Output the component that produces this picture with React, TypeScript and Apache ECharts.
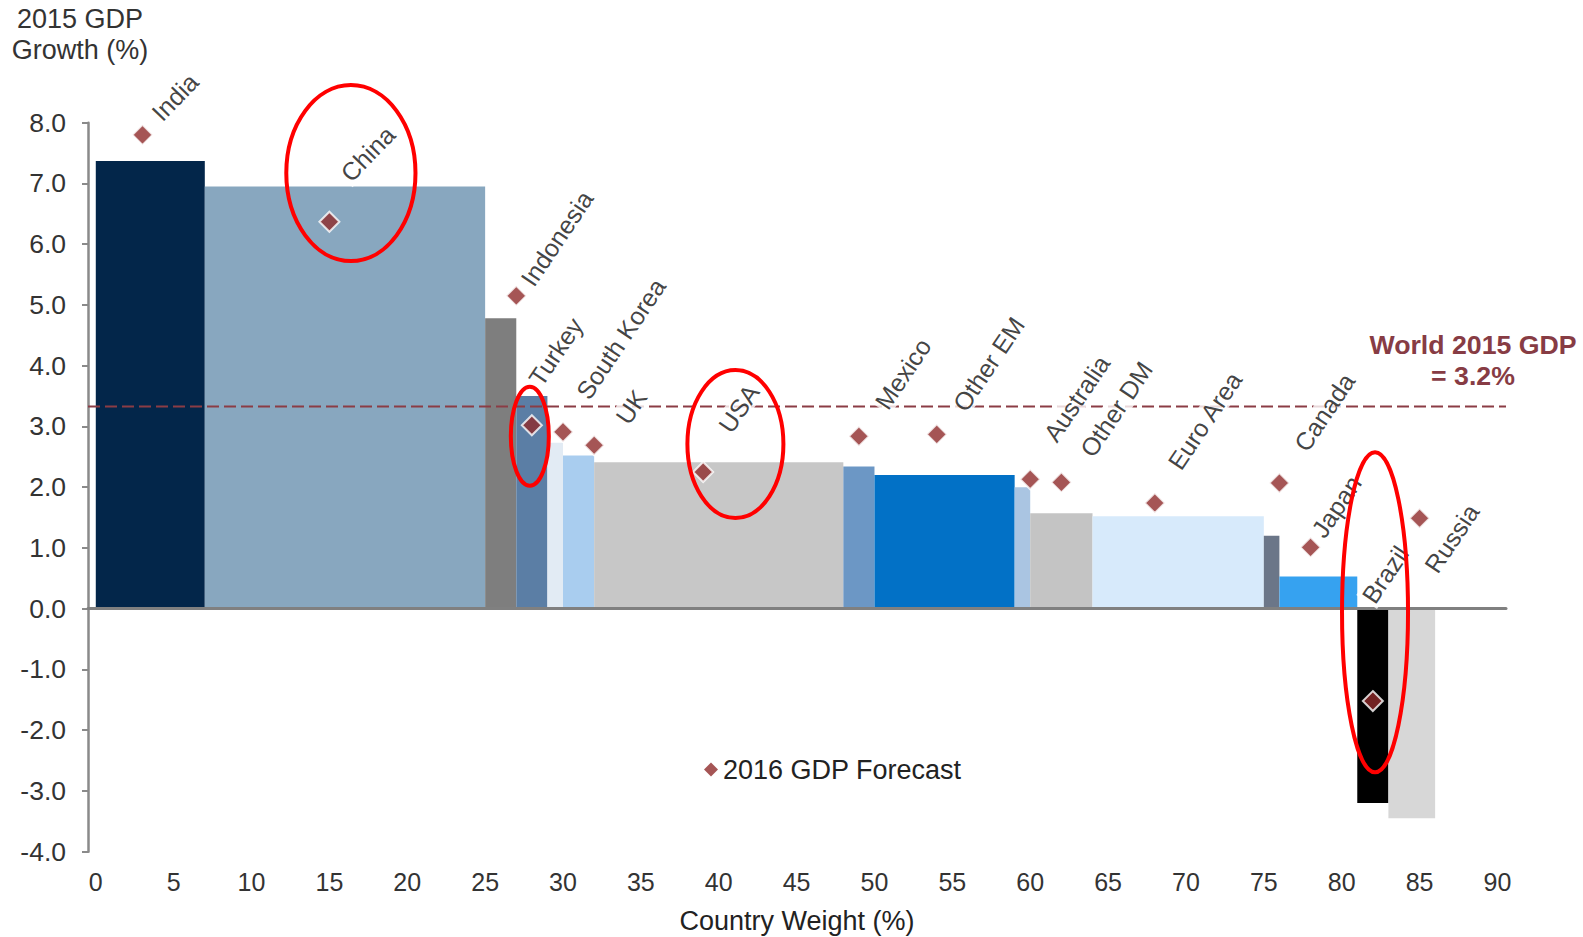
import React, { useEffect, useRef } from "react";
import * as echarts from "echarts";

// ---------------- DATA ----------------
const countries = [
  "India", "China", "Indonesia", "Turkey", "South Korea", "UK", "USA", "Mexico",
  "Other EM", "Australia", "Other DM", "Euro Area", "Canada", "Japan", "Brazil", "Russia",
];
// country weight (%), i.e. bar widths on the x axis
const weights = [7, 18, 2, 2, 1, 2, 16, 2, 9, 1, 4, 11, 1, 5, 2, 3];
// 2015 GDP growth (%), bar heights
const gdp2015 = [7.37, 6.95, 4.78, 3.5, 2.73, 2.52, 2.41, 2.34, 2.2, 2.0, 1.57, 1.52, 1.2, 0.53, -3.2, -3.45];
// 2016 GDP forecast (%), diamonds, with their x position on the weight axis
const forecastX = [3, 15, 27, 28, 30, 32, 39, 49, 54, 60, 62, 68, 76, 78, 82, 85];
const gdp2016 = [7.8, 6.37, 5.15, 3.02, 2.91, 2.69, 2.25, 2.84, 2.87, 2.13, 2.08, 1.74, 2.07, 1.01, -1.52, 1.49];
const worldGdpLine = 3.33;
const worldGdpText = "World 2015 GDP\n= 3.2%";
const xTicks = [0, 5, 10, 15, 20, 25, 30, 35, 40, 45, 50, 55, 60, 65, 70, 75, 80, 85, 90];
const yMin = -4;
const yMax = 8;

// ---------------- STYLE / LAYOUT ----------------
const barColors = [
  "#03264a", "#88a7bf", "#7e7e7e", "#5b7ea5", "#e2ebf4", "#a9cdef", "#c7c7c7", "#6c97c5",
  "#0271c6", "#aac5e2", "#c4c4c4", "#d7eafb", "#6b7688", "#36a2f0", "#000000", "#d7d7d7",
];
// anchor (in data coordinates) of each rotated country label, and its rotation
const labelAnchor = [
  [3.78, 8.08], [15.91, 7.08], [27.59, 5.33], [28.1, 3.69], [31.15, 3.47], [33.68, 3.06],
  [40.29, 2.92], [50.34, 3.3], [55.34, 3.27], [61.17, 2.77], [63.51, 2.52], [69.14, 2.31],
  [77.25, 2.61], [78.36, 1.19], [81.6, 0.11], [85.62, 0.61],
];
const labelRotate = [46, 46, 56, 56, 56, 56, 56, 56, 56, 56, 56, 56, 56, 56, 56, 56];
// highlight ellipses: [x, y] in data coords, radii in px
const ellipses = [
  [16.38, 7.17, 64.6, 88],
  [27.87, 2.84, 19, 49.5],
  [41.07, 2.71, 48, 74],
  [82.14, -0.06, 33, 160],
];
const FONT = "'Liberation Sans', Arial, sans-serif";
const X_MIN = -0.5;
const X_MAX = 90.55;

export default function App() {
  const ref = useRef<HTMLDivElement>(null);

  useEffect(() => {
    if (!ref.current) return;
    const chart = echarts.init(ref.current, null, { renderer: "svg" });

    let acc = 0;
    const barData = weights.map((w, i) => {
      const x0 = acc;
      acc += w;
      return [x0, acc, gdp2015[i], i];
    });

    const option: any = {
      animation: false,
      backgroundColor: "#ffffff",
      grid: { left: 88, right: 77, top: 122.7, bottom: 85.3, containLabel: false, outerBoundsMode: "none" },
      legend: {
        data: ["2016 GDP Forecast"],
        left: 704,
        top: 756,
        padding: 0,
        icon: "diamond",
        itemWidth: 14,
        itemHeight: 14,
        itemGap: 0,
        itemStyle: { borderWidth: 0 },
        textStyle: { fontSize: 27, color: "#222", fontFamily: FONT },
        selectedMode: false,
      },
      xAxis: [
        {
          type: "value",
          min: X_MIN,
          max: X_MAX,
          axisLine: { show: false, onZero: false },
          axisTick: { show: false },
          splitLine: { show: false },
          axisLabel: { customValues: xTicks, fontSize: 25, color: "#333", margin: 18, fontFamily: FONT },
          name: "Country Weight (%)",
          nameLocation: "middle",
          nameGap: 56,
          nameTextStyle: { fontSize: 27, color: "#222", fontFamily: FONT },
        },
        {
          type: "value",
          position: "bottom",
          min: X_MIN,
          max: X_MAX,
          z: 3,
          axisLine: { show: true, onZero: true, lineStyle: { color: "#808080", width: 3 } },
          axisTick: { show: false },
          axisLabel: { show: false },
          splitLine: { show: false },
        },
      ],
      yAxis: {
        type: "value",
        min: yMin,
        max: yMax,
        interval: 1,
        axisLine: { show: true, onZero: false, lineStyle: { color: "#8a8a8a", width: 2.5 } },
        axisTick: { show: true, length: 6, lineStyle: { color: "#8a8a8a", width: 2 } },
        splitLine: { show: false },
        axisLabel: {
          formatter: (v: number) => v.toFixed(1),
          fontSize: 26.5,
          color: "#333",
          margin: 22,
          fontFamily: FONT,
        },
      },
      series: [
        {
          type: "custom",
          name: "2015 GDP",
          z: 1,
          silent: true,
          data: barData,
          encode: { x: [0, 1], y: 2 },
          renderItem: (params: any, api: any) => {
            const x0 = api.value(0);
            const x1 = api.value(1);
            const v = api.value(2);
            const pTop = api.coord([x0, v]);
            const pBase = api.coord([x1, 0]);
            return {
              type: "rect",
              shape: {
                x: pTop[0],
                y: Math.min(pTop[1], pBase[1]),
                width: pBase[0] - pTop[0],
                height: Math.abs(pBase[1] - pTop[1]),
              },
              style: { fill: barColors[params.dataIndex] },
            };
          },
        },
        {
          type: "line",
          name: "World",
          z: 2,
          silent: true,
          symbol: "none",
          data: [[X_MIN, worldGdpLine], [X_MAX, worldGdpLine]],
          lineStyle: { color: "#8b3c45", width: 2, type: [12, 5] },
        },
        {
          type: "scatter",
          name: "2016 GDP Forecast",
          z: 3,
          silent: true,
          symbol: "diamond",
          symbolSize: 20,
          data: forecastX.map((x, i) => [x, gdp2016[i]]),
          itemStyle: { color: "#8e2a2b", borderColor: "#ffffff", borderWidth: 2 },
        },
        {
          type: "scatter",
          name: "labels",
          z: 4,
          silent: true,
          clip: false,
          symbol: "circle",
          symbolSize: 0.1,
          itemStyle: { color: "rgba(0,0,0,0)" },
          data: countries.map((c, i) => ({
            name: c,
            value: labelAnchor[i],
            label: { rotate: labelRotate[i] },
          })),
          label: {
            show: true,
            formatter: "{b}",
            position: "inside",
            align: "left",
            verticalAlign: "middle",
            fontSize: 25,
            color: "#111",
            fontFamily: FONT,
            backgroundColor: "#ffffff",
            padding: [0, 2],
          },
        },
      ],
    };

    chart.setOption(option);

    const toPx = (x: number, y: number) =>
      chart.convertToPixel({ xAxisIndex: 0, yAxisIndex: 0 }, [x, y]) as number[];

    const graphics: any[] = [
      {
        type: "text",
        x: 80,
        y: 3.75,
        z: 10,
        style: {
          text: "2015 GDP\nGrowth (%)",
          align: "center",
          verticalAlign: "top",
          fontSize: 27,
          lineHeight: 30.5,
          fontFamily: FONT,
          fill: "#333",
        },
      },
      {
        type: "text",
        x: 1473,
        y: 329.5,
        z: 10,
        style: {
          text: worldGdpText,
          align: "center",
          verticalAlign: "top",
          fontSize: 26.7,
          fontWeight: "bold",
          lineHeight: 31,
          fontFamily: FONT,
          fill: "#873c44",
        },
      },
    ];
    ellipses.forEach(([x, y, rx, ry]) => {
      const p = toPx(x, y);
      graphics.push({
        type: "ellipse",
        z: 20,
        shape: { cx: p[0], cy: p[1], rx, ry },
        style: { fill: "none", stroke: "#ff0000", lineWidth: 4 },
      });
    });
    chart.setOption({ graphic: graphics });

    return () => chart.dispose();
  }, []);

  return (
    <div
      ref={ref}
      style={{ position: "fixed", left: 0, top: 0, width: "1583px", height: "937px", background: "#fff" }}
    />
  );
}
